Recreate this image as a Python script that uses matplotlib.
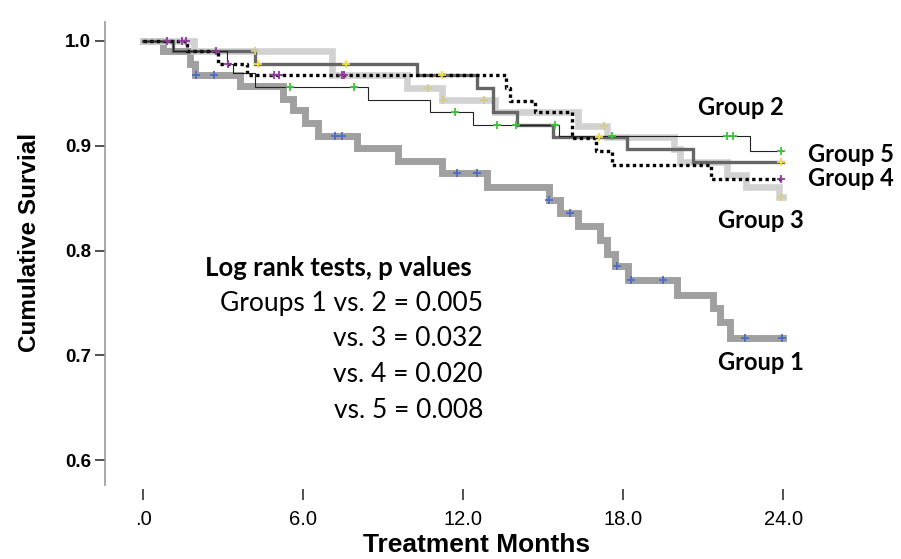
import numpy as np
import matplotlib.pyplot as plt

# step curves (months, cumulative survival)
g1_t = [0, 0.75, 1.76, 1.95, 3.64, 5.25, 5.62, 6.07, 6.56, 8.02, 9.56, 11.21, 12.90,
        15.22, 15.64, 16.31, 17.14, 17.40, 17.70, 18.20, 20.02, 21.37, 21.63, 22.0]
g1_s = [1.0, 0.990, 0.978, 0.967, 0.957, 0.945, 0.934, 0.922, 0.909, 0.898, 0.885, 0.874,
        0.861, 0.848, 0.836, 0.823, 0.810, 0.797, 0.785, 0.772, 0.758, 0.745, 0.732, 0.717]
g1_c = [2.0, 2.66, 7.2, 7.46, 11.77, 12.52, 15.22, 16.0, 17.77, 18.3, 19.5, 22.57, 23.96]

g2_t = [0, 1.12, 3.15, 3.37, 4.2, 8.44, 10.76, 12.37, 15.6, 22.76]
g2_s = [1.0, 0.990, 0.978, 0.969, 0.956, 0.944, 0.932, 0.920, 0.909, 0.895]
g2_c = [5.5, 7.9, 11.7, 13.27, 14.0, 15.45, 17.6, 21.9, 22.1, 23.9]

g3_t = [0, 1.9, 7.1, 9.9, 11.2, 13.2, 16.3, 17.4, 19.9, 20.15, 21.9, 22.6, 23.85]
g3_s = [1.0, 0.990, 0.967, 0.955, 0.944, 0.932, 0.919, 0.908, 0.897, 0.884, 0.872,
        0.861, 0.851]
g3_c = [4.2, 10.7, 11.25, 12.8, 17.3, 23.9]

g4_t = [0, 1.65, 2.8, 3.9, 13.6, 13.75, 14.7, 16.1, 17.0, 17.6, 21.3]
g4_s = [1.0, 0.990, 0.978, 0.967, 0.955, 0.943, 0.932, 0.907, 0.895, 0.882, 0.868]
g4_c = [0.9, 1.45, 1.6, 2.75, 3.2, 4.9, 5.1, 7.45, 7.55, 23.9]

g5_t = [0, 1.12, 4.2, 10.27, 12.52, 13.12, 14.02, 15.37, 18.15, 20.6]
g5_s = [1.0, 0.990, 0.978, 0.967, 0.955, 0.932, 0.920, 0.908, 0.897, 0.884]
g5_c = [4.3, 7.6, 11.2, 17.1, 23.9]

x_ticks = [0, 6, 12, 18, 24]
x_ticklabels = ['.0', '6.0', '12.0', '18.0', '24.0']
y_ticks = [0.6, 0.7, 0.8, 0.9, 1.0]

test_lines = ['Groups 1 vs. 2 = 0.005', 'vs. 3 = 0.032', 'vs. 4 = 0.020', 'vs. 5 = 0.008']

W, H = 901, 559
fig = plt.figure(figsize=(W / 100, H / 100), dpi=100)
ax = fig.add_axes([105 / W, 1 - 485 / H, (800 - 105) / W, (485 - 22) / H])


def surv_at(t, s, c):
    idx = np.searchsorted(t, c, side='right') - 1
    return np.array(s)[idx]


def draw(t, s, c, color, lw, mcol, ls='-', z=2):
    tt = list(t) + [24.0]
    ss = list(s) + [s[-1]]
    ax.step(tt, ss, where='post', color=color, lw=lw, ls=ls, zorder=z,
            solid_joinstyle='miter')
    ax.plot(c, surv_at(t, s, c), '+', color=mcol, ms=6, mew=1.3, zorder=10)


draw(g1_t, g1_s, g1_c, '#a0a0a0', 5.0, '#4a6cc8', z=2)
draw(g3_t, g3_s, g3_c, '#d2d2d2', 4.8, '#d6cc8c', z=3)
draw(g5_t, g5_s, g5_c, '#666666', 2.4, '#f0e03a', z=4)
draw(g4_t, g4_s, g4_c, 'black', 2.4, '#8e3c9c', ls=(0, (1, 1)), z=5)
draw(g2_t, g2_s, g2_c, '#222222', 0.8, '#3cc43c', z=6)

ax.set_xlim(-1.425, 24.63)
ax.set_ylim(0.5763, 1.018)
for side in ['top', 'right']:
    ax.spines[side].set_visible(False)
ax.spines['bottom'].set_position(('outward', 3))
ax.spines['bottom'].set_visible(False)
ax.spines['left'].set_color('#999999')
ax.spines['left'].set_linewidth(1.2)

ax.set_xticks(x_ticks)
ax.set_xticklabels(x_ticklabels, fontsize=14.5, family='Liberation Sans')
ax.set_yticks(y_ticks)
ax.set_yticklabels([f'{v:.1f}' for v in y_ticks], fontsize=13.5, family='Liberation Sans',
                   fontweight='bold')
ax.tick_params(axis='x', length=8, width=1.2, color='#333333', pad=7)
ax.tick_params(axis='y', length=7, width=1.2, color='#333333', pad=3)

fig.text(30 / W, 1 - 242 / H, 'Cumulative Survial', rotation=90, ha='center', va='center',
         fontsize=17.5, fontweight='bold', family='Liberation Sans')
fig.text(477 / W, 1 - 545 / H, 'Treatment Months', ha='center', va='center',
         fontsize=19, fontweight='bold', family='Liberation Sans')

lab = dict(fontsize=17, fontweight='bold', family='Lato', va='center')
fig.text(698 / W, 1 - 108 / H, 'Group 2', ha='left', **lab)
fig.text(808 / W, 1 - 155 / H, 'Group 5', ha='left', **lab)
fig.text(808 / W, 1 - 178 / H, 'Group 4', ha='left', **lab)
fig.text(718 / W, 1 - 220 / H, 'Group 3', ha='left', **lab)
fig.text(718 / W, 1 - 363 / H, 'Group 1', ha='left', **lab)

fig.text(205 / W, 1 - 268 / H, 'Log rank tests, p values', ha='left', va='center',
         fontsize=18.5, fontweight='bold', family='Lato')
for i, line in enumerate(test_lines):
    fig.text(483 / W, 1 - (303 + i * 36) / H, line, ha='right', va='center',
             fontsize=19, family='Lato')

fig.savefig('out.png', dpi=100)
